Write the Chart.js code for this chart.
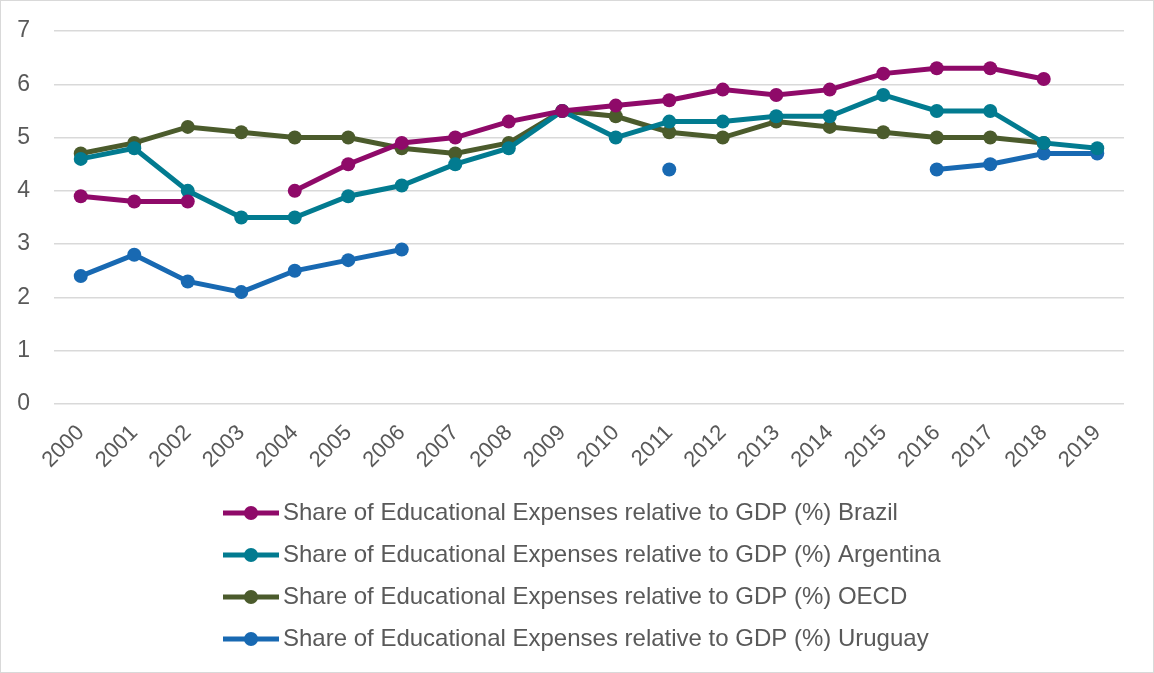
<!DOCTYPE html>
<html>
<head>
<meta charset="utf-8">
<script src="https://cdn.jsdelivr.net/npm/chart.js@4/dist/chart.umd.min.js"></script>
<style>
  html, body { margin: 0; padding: 0; background: #fff; }
  #wrap { position: absolute; left: 0; top: 0; width: 1152px; height: 671px; border: 1px solid #d9d9d9; }
  canvas { display: block; }
</style>
</head>
<body>
<div id="wrap"><canvas id="chart"></canvas></div>
<script>
// datos
const years = ['2000','2001','2002','2003','2004','2005','2006','2007','2008','2009',
               '2010','2011','2012','2013','2014','2015','2016','2017','2018','2019'];
const brazil    = [3.9, 3.8, 3.8, null, 4.0, 4.5, 4.9, 5.0, 5.3, 5.5, 5.6, 5.7, 5.9, 5.8, 5.9, 6.2, 6.3, 6.3, 6.1, null];
const argentina = [4.6, 4.8, 4.0, 3.5, 3.5, 3.9, 4.1, 4.5, 4.8, 5.5, 5.0, 5.3, 5.3, 5.4, 5.4, 5.8, 5.5, 5.5, 4.9, 4.8];
const oecd      = [4.7, 4.9, 5.2, 5.1, 5.0, 5.0, 4.8, 4.7, 4.9, 5.5, 5.4, 5.1, 5.0, 5.3, 5.2, 5.1, 5.0, 5.0, 4.9, null];
const uruguay   = [2.4, 2.8, 2.3, 2.1, 2.5, 2.7, 2.9, null, null, null, null, 4.4, null, null, null, null, 4.4, 4.5, 4.7, 4.7];
const yTicks = [0, 1, 2, 3, 4, 5, 6, 7];

const prefix = 'Share of Educational Expenses relative to GDP (%) ';
const series = [
  { name: 'Brazil',    data: brazil,    color: '#8f0a69' },
  { name: 'Argentina', data: argentina, color: '#027b90' },
  { name: 'OECD',      data: oecd,      color: '#4b5b2c' },
  { name: 'Uruguay',   data: uruguay,   color: '#1869b2' }
];

// icono de leyenda: linea con punto, como en Excel
function legendIcon(color) {
  const c = document.createElement('canvas');
  c.width = 56; c.height = 16;
  const g = c.getContext('2d');
  g.strokeStyle = color;
  g.lineWidth = 5;
  g.beginPath(); g.moveTo(0, 8); g.lineTo(56, 8); g.stroke();
  g.fillStyle = color;
  g.beginPath(); g.arc(28, 8, 7, 0, Math.PI * 2); g.fill();
  return c;
}

// leyenda en columna alineada a la izquierda
const legendLeft = {
  id: 'legendLeft',
  afterLayout(chart) {
    if (chart.legend) chart.legend.left = 212;
  }
};

const textColor = '#595959';
Chart.defaults.font.family = '"Liberation Sans", Arial, sans-serif';
Chart.defaults.color = textColor;

const ctx = document.getElementById('chart').getContext('2d');
new Chart(ctx, {
  type: 'line',
  data: {
    labels: years,
    datasets: series.map(s => ({
      label: prefix + s.name,
      data: s.data,
      borderColor: s.color,
      backgroundColor: s.color,
      borderWidth: 5,
      pointRadius: 7,
      pointHoverRadius: 7,
      pointBorderWidth: 0,
      tension: 0,
      spanGaps: false,
      fill: false
    }))
  },
  options: {
    responsive: true,
    maintainAspectRatio: false,
    animation: false,
    layout: { padding: { left: 0, right: 29, top: 30, bottom: 11 } },
    scales: {
      x: {
        offset: true,
        grid: { display: false },
        border: { display: false },
        afterFit: a => { a.height = 79; a.paddingLeft = 0; a.paddingRight = 0; },
        ticks: {
          maxRotation: 45,
          minRotation: 45,
          autoSkip: false,
          padding: 8,
          font: { size: 22 },
          color: textColor
        }
      },
      y: {
        min: 0,
        max: 7,
        afterBuildTicks: axis => { axis.ticks = yTicks.map(v => ({ value: v })); },
        afterFit: a => { a.width = 53; a.paddingTop = 0; a.paddingBottom = 0; },
        grid: { color: '#d9d9d9', lineWidth: 1.5, drawTicks: false },
        border: { display: false },
        ticks: { padding: 24, font: { size: 23 }, color: textColor }
      }
    },
    plugins: {
      legend: {
        position: 'bottom',
        align: 'start',
        labels: {
          usePointStyle: true,
          pointStyleWidth: 40,
          padding: 18,
          font: { size: 24 },
          color: textColor,
          generateLabels: chart => chart.data.datasets.map((d, i) => ({
            text: d.label,
            fillStyle: d.borderColor,
            strokeStyle: d.borderColor,
            pointStyle: legendIcon(d.borderColor),
            lineWidth: 0,
            hidden: false,
            datasetIndex: i,
            fontColor: textColor
          }))
        }
      },
      tooltip: { enabled: false }
    }
  },
  plugins: [legendLeft]
});
</script>
</body>
</html>
